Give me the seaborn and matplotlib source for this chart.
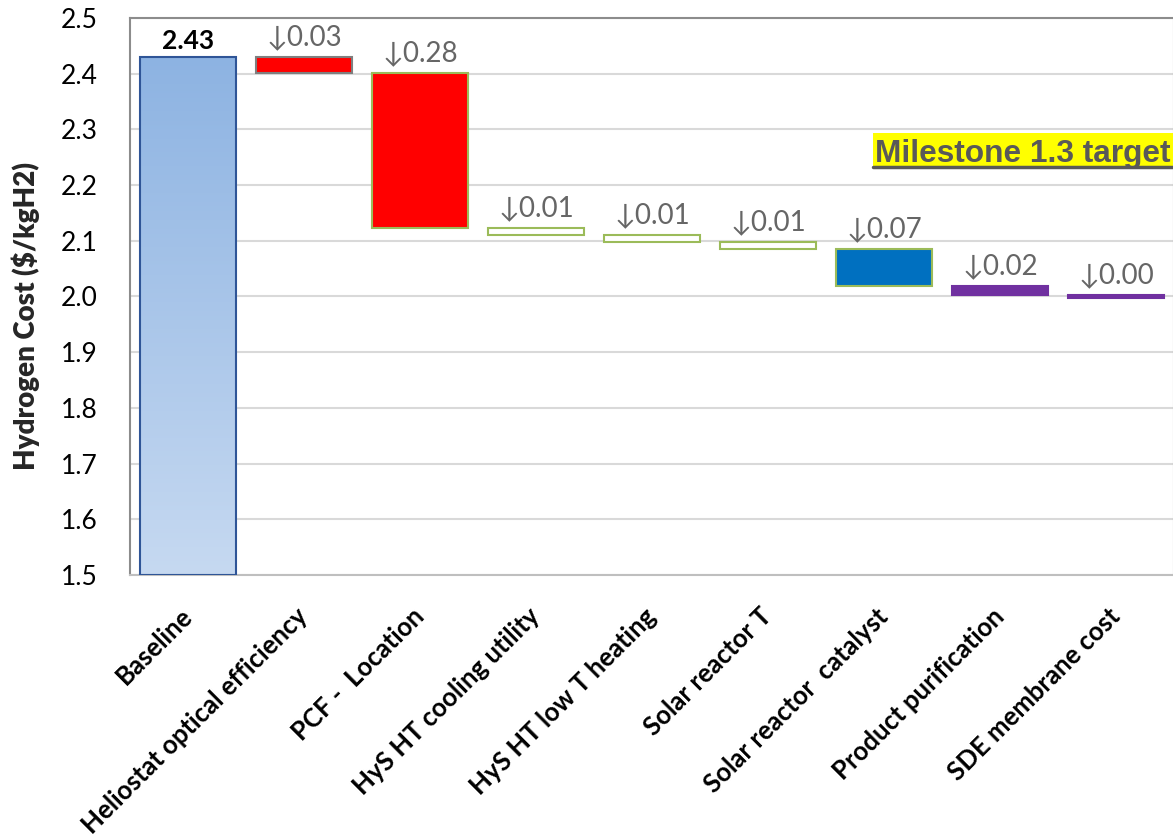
import numpy as np
import pandas as pd
import matplotlib
matplotlib.use('Agg')
import matplotlib.pyplot as plt
from matplotlib.colors import LinearSegmentedColormap
from matplotlib.lines import Line2D
from matplotlib.patches import Rectangle
import seaborn as sns

categories = ['Baseline', 'Heliostat optical efficiency', 'PCF -  Location',
              'HyS HT cooling utility', 'HyS HT low T heating', 'Solar reactor T',
              'Solar reactor  catalyst', 'Product purification', 'SDE membrane cost']
baseline = 2.43
drops = [0.029, 0.278, 0.013, 0.013, 0.012, 0.066, 0.017, 0.004]
fill_colors = ['#8db3e2', '#ff0000', '#ff0000', '#ffffff', '#ffffff', '#ffffff',
               '#0070c0', '#7030a0', '#7030a0']
edge_colors = ['#2f5597', '#7f7f7f', '#9bbb59', '#9bbb59', '#9bbb59', '#9bbb59',
               '#9bbb59', '#7030a0', '#7030a0']

y_min, y_max = 1.5, 2.5

# waterfall: each step starts where the previous one ended
tops = [baseline]
bottoms = [y_min]
level = baseline
for d in drops:
    tops.append(level)
    bottoms.append(level - d)
    level -= d
df = pd.DataFrame({'category': categories,
                   'height': np.array(tops) - np.array(bottoms),
                   'bottom': bottoms,
                   'top': tops})

sns.set_style('white')
plt.rcParams['font.family'] = ['Lato', 'DejaVu Sans']

fig = plt.figure(figsize=(11.73, 8.4), dpi=100)
ax = fig.add_axes([130 / 1173, 1 - 575 / 840, 1044 / 1173, 557 / 840])

sns.barplot(data=df, x='category', y='height', bottom=df['bottom'].values,
            order=categories, width=0.82, color='white', saturation=1,
            linewidth=1.5, ax=ax, zorder=3)

for i, p in enumerate(ax.patches):
    p.set_facecolor(fill_colors[i])
    p.set_edgecolor(edge_colors[i])
    p.set_linewidth(1.5)

# gradient fill for baseline bar
base = ax.patches[0]
base.set_facecolor('none')
grad_cmap = LinearSegmentedColormap.from_list('bl', ['#c6d9f1', '#8db3e2'])
bx = base.get_x()
bw = base.get_width()
grad = np.linspace(0, 1, 256).reshape(-1, 1)
im = ax.imshow(grad, cmap=grad_cmap, origin='lower', aspect='auto',
               extent=[bx, bx + bw, y_min, baseline], zorder=2.5)
im.set_clip_path(base)

ax.set_xlim(-0.5, len(categories) - 0.5)
ax.set_ylim(y_min, y_max)
yticks = np.arange(1.5, 2.51, 0.1)
ax.set_yticks(yticks)
ax.set_yticklabels([f'{v:.1f}' for v in yticks], fontsize=19)
ax.yaxis.grid(True, color='#d9d9d9', linewidth=1.5, zorder=0)
ax.set_axisbelow(True)
ax.tick_params(axis='both', length=0, colors='black')
ax.tick_params(axis='y', pad=23)
ax.set_xlabel('')
ax.set_ylabel('Hydrogen Cost ($/kgH2)', fontsize=20, fontweight='heavy')
ax.yaxis.set_label_coords(-0.086, 0.465)

ax.set_xticks(range(len(categories)))
ax.set_xticklabels(categories, rotation=45, ha='right', va='center',
                   rotation_mode='anchor', fontsize=18.5, fontweight='bold')
ax.tick_params(axis='x', pad=27)

for side in ['left', 'top', 'bottom', 'right']:
    ax.spines[side].set_color('#8c8c8c')
    ax.spines[side].set_linewidth(1.5)
ax.spines['bottom'].set_color('#bfbfbf')

# value labels
ax.annotate(f'{baseline:.2f}', (0, baseline), xytext=(0, 3), textcoords='offset points',
            ha='center', va='bottom', fontsize=19, fontweight='bold', color='black')
for i, d in enumerate(drops, start=1):
    ax.annotate(f'\u2193{d:.2f}', (i, tops[i]), xytext=(0, 5), textcoords='offset points',
                ha='center', va='bottom', fontsize=20, color='#666666')

# milestone label: yellow highlight, gray bold text, underline
fig.add_artist(Rectangle((873 / 1173, 1 - 168 / 840), 300 / 1173, 35 / 840,
                         transform=fig.transFigure, facecolor='#ffff00',
                         edgecolor='none', zorder=4))
fig.text(875 / 1173, 1 - 162 / 840, 'Milestone 1.3 target', fontsize=22.8,
         fontweight='bold', color='#595959', family=['Liberation Sans', 'DejaVu Sans'],
         ha='left', va='baseline', zorder=5)
fig.add_artist(Line2D([873 / 1173, 1.0], [1 - 167 / 840, 1 - 167 / 840],
                      color='#595959', linewidth=2.5, zorder=6))

fig.savefig('out.png', dpi=100)
